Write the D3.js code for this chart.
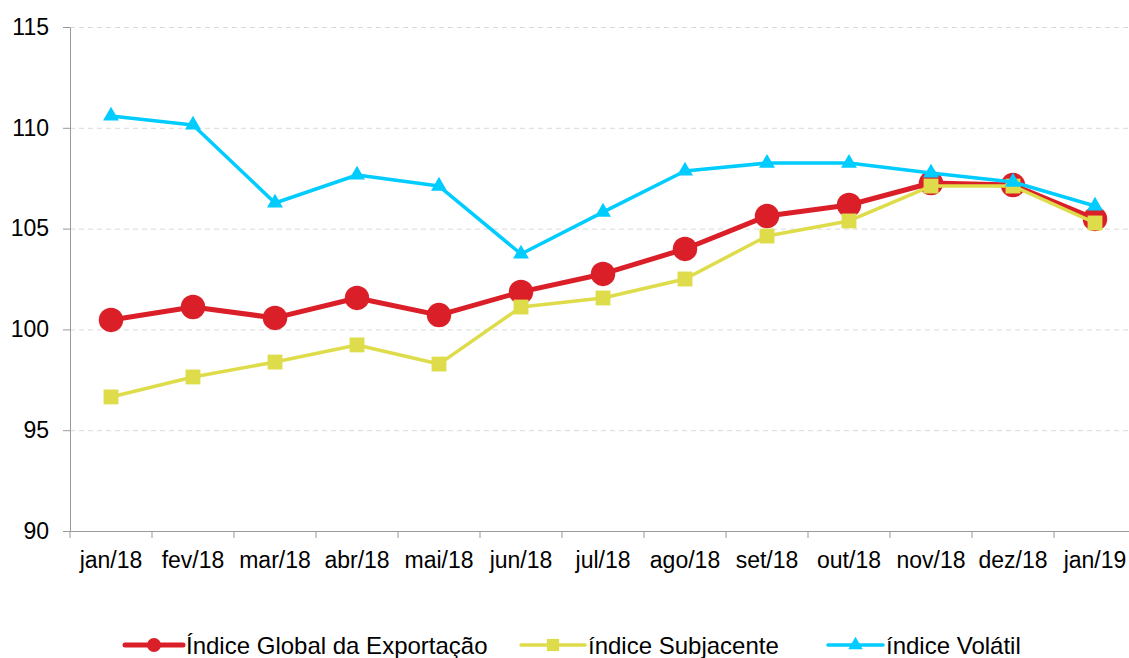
<!DOCTYPE html>
<html>
<head>
<meta charset="utf-8">
<script src="https://cdn.jsdelivr.net/npm/d3@7"></script>
<style>
  body { margin: 0; background: #fff; }
  svg { font-family: "Liberation Sans", Arial, sans-serif; }
  .grid line { stroke: #d9d9d9; stroke-dasharray: 5,4; }
  .grid path { display: none; }
  .axis path, .axis line { stroke: #999; }
  .axis text { fill: #000; font-size: 23px; }
  .legend text { font-size: 24px; fill: #000; }
</style>
</head>
<body>
<div id="chart"></div>
<script>
var months = ["jan/18", "fev/18", "mar/18", "abr/18", "mai/18", "jun/18", "jul/18",
              "ago/18", "set/18", "out/18", "nov/18", "dez/18", "jan/19"];
var globalIdx = [100.47, 101.11, 100.57, 101.56, 100.71, 101.86, 102.75, 103.99, 105.62, 106.17, 107.26, 107.16, 105.48];
var subjacente = [96.65, 97.64, 98.38, 99.23, 98.28, 101.11, 101.56, 102.50, 104.63, 105.38, 107.11, 107.11, 105.28];
var volatil = [110.59, 110.14, 106.27, 107.66, 107.11, 103.74, 105.82, 107.86, 108.25, 108.25, 107.76, 107.31, 106.12];
var yTicks = [90, 95, 100, 105, 110, 115];

var series = [
    {name: "Índice Global da Exportação", values: globalIdx, color: "#da1f28", width: 5, marker: "circle"},
    {name: "índice Subjacente", values: subjacente, color: "#dedc4a", width: 3.5, marker: "square"},
    {name: "índice Volátil", values: volatil, color: "#00ccff", width: 3.5, marker: "triangle"}
];

var margin = {top: 27, right: -7, bottom: 127, left: 70},
    totalW = 1129, totalH = 658,
    width = totalW - margin.left - margin.right,
    height = totalH - margin.top - margin.bottom;

var xScale = d3.scaleBand().domain(months).range([0, width]).padding(0),
    yScale = d3.scaleLinear().domain([90, 115]).range([height, 0]);

var svg = d3.select("#chart").append("svg")
    .attr("width", totalW)
    .attr("height", totalH);

var g = svg.append("g")
    .attr("transform", "translate(" + margin.left + "," + margin.top + ")");

// horizontal grid
g.append("g")
    .attr("class", "grid")
    .call(d3.axisLeft(yScale).tickValues(yTicks.slice(1)).tickSize(-width).tickFormat(""));

// x axis
var xAxis = g.append("g")
    .attr("class", "axis")
    .attr("transform", "translate(0," + height + ")")
    .call(d3.axisBottom(xScale).tickSize(7).tickSizeOuter(0));
xAxis.selectAll(".tick line").attr("x1", -xScale.bandwidth() / 2).attr("x2", -xScale.bandwidth() / 2);
xAxis.selectAll("text").attr("y", 37).attr("dy", 0);

// y axis
g.append("g")
    .attr("class", "axis")
    .call(d3.axisLeft(yScale).tickValues(yTicks).tickSize(7).tickSizeOuter(0).tickPadding(14));

function cx(i) { return xScale(months[i]) + xScale.bandwidth() / 2; }

var symbols = {
    circle: d3.symbol().type(d3.symbolCircle).size(470),
    square: d3.symbol().type(d3.symbolSquare).size(220),
    triangle: d3.symbol().type(d3.symbolTriangle).size(110)
};

var line = d3.line()
    .x(function(d, i) { return cx(i); })
    .y(function(d) { return yScale(d); });

series.forEach(function(s) {
    g.append("path")
        .datum(s.values)
        .attr("fill", "none")
        .attr("stroke", s.color)
        .attr("stroke-width", s.width)
        .attr("stroke-linejoin", "round")
        .attr("d", line);
    g.selectAll(".m-" + s.marker)
        .data(s.values)
        .enter().append("path")
        .attr("class", "m-" + s.marker)
        .attr("transform", function(d, i) { return "translate(" + cx(i) + "," + yScale(d) + ")"; })
        .attr("d", symbols[s.marker])
        .attr("fill", s.color);
});

// legend
var legendX = [125, 521, 828];
var legendLen = [58, 64, 55];
var small = {
    circle: d3.symbol().type(d3.symbolCircle).size(150),
    square: d3.symbol().type(d3.symbolSquare).size(150),
    triangle: d3.symbol().type(d3.symbolTriangle).size(90)
};
var legend = svg.append("g").attr("class", "legend");
series.forEach(function(s, i) {
    var lg = legend.append("g").attr("transform", "translate(" + legendX[i] + ",645)");
    lg.append("line")
        .attr("x1", 0).attr("x2", legendLen[i])
        .attr("stroke", s.color)
        .attr("stroke-width", s.width)
        .attr("stroke-linecap", "round");
    lg.append("path")
        .attr("transform", "translate(" + legendLen[i] / 2 + ",0)")
        .attr("d", small[s.marker])
        .attr("fill", s.color);
    lg.append("text")
        .attr("x", legendLen[i] + 3)
        .attr("dy", "0.36em")
        .text(s.name);
});
</script>
</body>
</html>
